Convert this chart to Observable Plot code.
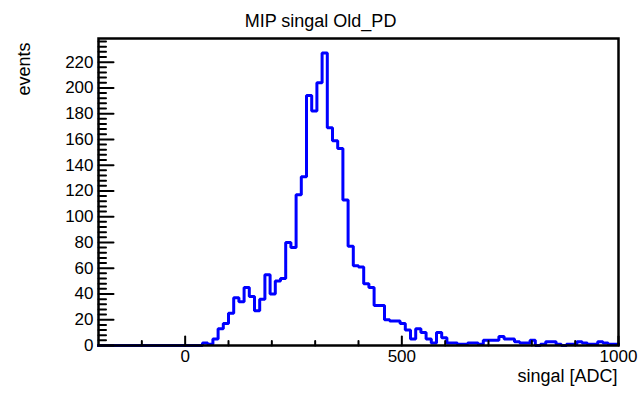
<!DOCTYPE html>
<html><head><meta charset="utf-8">
<script src="https://cdn.jsdelivr.net/npm/d3@7"></script>
<script src="https://cdn.jsdelivr.net/npm/@observablehq/plot@0.6"></script>
<style>body{margin:0;background:#fff}</style>
</head><body><div id="chart"></div>
<script>
const title = "MIP singal Old_PD";
const xLabel = "singal [ADC]";
const yLabel = "events";
// histogram definition: 100 bins over [-200, 1000)
const xMin = -200, xMax = 1000, nBins = 100;
const counts = [
  0,0,0,0,0,0,0,0,0,0,
  0,0,0,0,0,0,0,0,0,0,
  2,1,5,13,17,25,37,34,45,38,
  27,36,55,40,50,52,80,76,117,131,
  194,182,204,227,169,159,153,113,77,62,
  61,48,45,31,31,20,19,19,17,12,
  5,13,10,5,2,10,6,2,2,1,
  1,2,2,1,4,4,4,7,5,5,
  3,2,2,4,0,1,3,3,1,0,
  1,1,3,2,1,1,3,2,1,1
];
const xMajorTicks = [0, 500, 1000];
const xMinorTicks = [-100, 100, 200, 300, 400, 600, 700, 800, 900];
const yMajorTicks = [0, 20, 40, 60, 80, 100, 120, 140, 160, 180, 200, 220];
const yMinorTicks = d3.range(0, 238, 4).filter(v => v % 20 !== 0);

const binWidth = (xMax - xMin) / nBins;
const steps = [];
counts.forEach((c, i) => {
  const lo = xMin + i * binWidth;
  steps.push({x: lo, y: c}, {x: lo + binWidth, y: c});
});

const tickShape = {draw(context, l) { context.moveTo(0, 0); context.lineTo(0, -l); }};
const font = "'Liberation Sans', Arial, Helvetica, sans-serif";

const chart = Plot.plot({
  width: 641, height: 395,
  marginLeft: 98, marginRight: 23, marginTop: 38, marginBottom: 50,
  x: {domain: [xMin, xMax]},
  y: {domain: [0, d3.max(counts) * 1.05]},
  style: {fontFamily: font, fontSize: "17px", background: "white", overflow: "visible", color: "black"},
  marks: [
    Plot.line(steps, {x: "x", y: "y", stroke: "#0000ff", strokeWidth: 3, strokeLinejoin: "miter", strokeLinecap: "square"}),
    Plot.frame({stroke: "black", strokeWidth: 2.5}),
    Plot.vector(yMajorTicks, {y: d => d, frameAnchor: "left", rotate: 90, length: 15, anchor: "start", shape: tickShape, stroke: "black", strokeWidth: 2}),
    Plot.vector(yMinorTicks, {y: d => d, frameAnchor: "left", rotate: 90, length: 7.5, anchor: "start", shape: tickShape, stroke: "black", strokeWidth: 2}),
    Plot.vector(xMajorTicks, {x: d => d, frameAnchor: "bottom", rotate: 0, length: 9, anchor: "start", shape: tickShape, stroke: "black", strokeWidth: 2}),
    Plot.vector(xMinorTicks, {x: d => d, frameAnchor: "bottom", rotate: 0, length: 4.5, anchor: "start", shape: tickShape, stroke: "black", strokeWidth: 2}),
    Plot.axisX({ticks: xMajorTicks, tickSize: 0, tickPadding: 4, label: null, fontSize: 17, tickFormat: d => String(d)}),
    Plot.axisY({ticks: yMajorTicks, tickSize: 0, tickPadding: 5, label: null, fontSize: 17, tickFormat: d => String(d)}),
    Plot.text([title], {text: d => d, frameAnchor: "top", dx: -38, dy: -24, fontSize: 18, textAnchor: "middle"}),
    Plot.text([yLabel], {text: d => d, frameAnchor: "top-left", dx: -81, dy: 4, rotate: -90, fontSize: 18, textAnchor: "end"}),
    Plot.text([xLabel], {text: d => d, frameAnchor: "bottom-right", dx: -1, dy: 36, fontSize: 18, textAnchor: "end"})
  ]
});
document.getElementById("chart").appendChild(chart);
</script>
</body></html>
